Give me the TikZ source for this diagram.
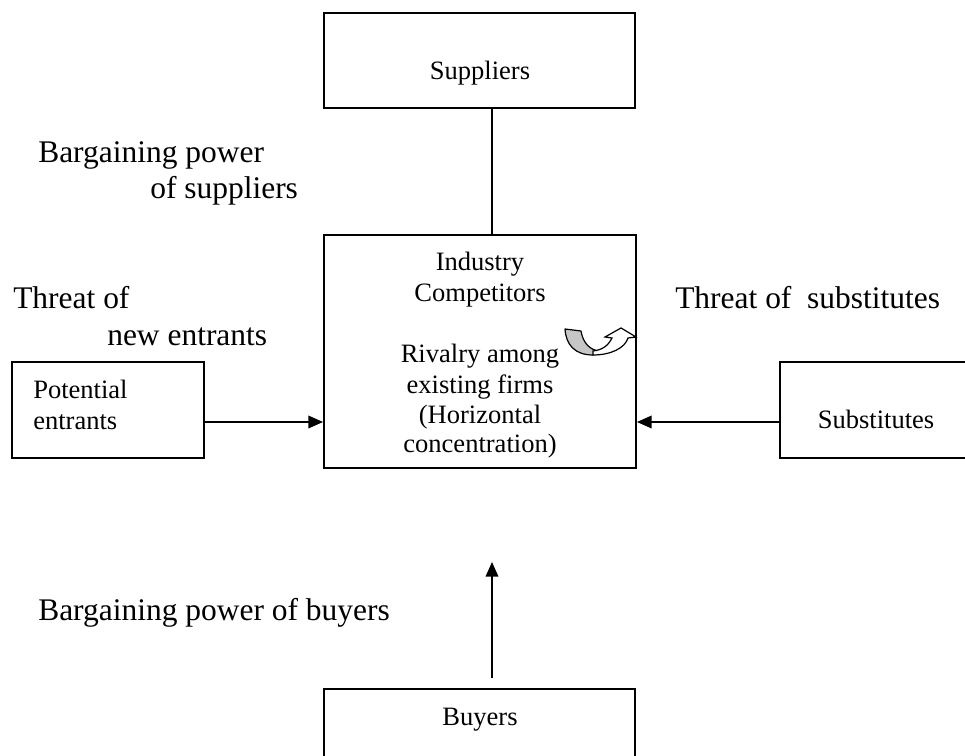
\documentclass[tikz,border=0pt]{standalone}
\usepackage{fontspec}
\setmainfont{Liberation Serif}
\usetikzlibrary{arrows.meta,fit}
\begin{document}
\begin{tikzpicture}[x=0.75pt,y=-0.75pt,
  box/.style={draw,line width=1.5pt,inner sep=0pt},
  lab/.style={inner sep=0pt,font=\fontsize{23.6}{28}\selectfont,anchor=base west},
  txt/.style={inner sep=0pt,font=\fontsize{19.9}{23}\selectfont,anchor=base},
  conn/.style={line width=1.1pt},
  arr/.style={conn,-{Triangle[length=11pt,width=9.5pt]}}]
\useasboundingbox (0,0) rectangle (965,756);
\clip (0,0) rectangle (965,756);
% boxes
\coordinate (s1) at (324,13);  \coordinate (s2) at (635,108);
\coordinate (i1) at (324,235); \coordinate (i2) at (636,468);
\coordinate (e1) at (12,362);  \coordinate (e2) at (204,458);
\coordinate (u1) at (780,362); \coordinate (u2) at (1000,458);
\coordinate (b1) at (324,689); \coordinate (b2) at (635,800);
\node[box,fit=(s1)(s2)] (sup) {};
\node[box,fit=(i1)(i2)] (ind) {};
\node[box,fit=(e1)(e2)] (ent) {};
\node[box,fit=(u1)(u2)] (subs) {};
\node[box,fit=(b1)(b2)] (buy) {};
% box texts
\node[txt] (tsup) at (480,80) {Suppliers};
\node[txt] (tind1) at (480,271) {Industry};
\node[txt] (tind2) at (480,302) {Competitors};
\node[txt] (tind3) at (480,363) {Rivalry among};
\node[txt] (tind4) at (480,393) {existing firms};
\node[txt] (tind5) at (480,423) {(Horizontal};
\node[txt] (tind6) at (480,452) {concentration)};
\node[txt,anchor=base west] (tent1) at (33,398) {Potential};
\node[txt,anchor=base west] (tent2) at (33,429) {entrants};
\node[txt] (tsubs) at (876,428) {Substitutes};
\node[txt] (tbuy) at (480,725) {Buyers};
% outside labels
\node[lab] (l1) at (38,163) {Bargaining power};
\node[lab] (l2) at (150,199) {of suppliers};
\node[lab] (l3) at (13,309) {Threat of};
\node[lab] (l4) at (107,345) {new entrants};
\node[lab] (l5) at (675,309) {Threat of\ \ substitutes};
\node[lab] (l6) at (38,620) {Bargaining power of buyers};
% connectors
\coordinate (xl) at (492,0);
\coordinate (ya) at (0,422);
\coordinate (ba1) at (492,678);
\coordinate (ba2) at (492,562);
\draw[conn] (sup.south -| xl) -- (ind.north -| xl);
\draw[arr] (ent.east |- ya) -- (ind.west |- ya);
\draw[arr] (subs.west |- ya) -- (ind.east |- ya);
\draw[arr] (ba1) -- (ba2);
% curved arrow icon
\filldraw[fill=gray!45,line width=0.9pt,line join=round]
  (565,329) -- (581,331) .. controls (583,343) and (590,350) .. (599,351)
  -- (593,355) .. controls (575,355) and (566,345) .. (565,329) -- cycle;
\filldraw[fill=white,line width=0.9pt,line join=miter]
  (593,355) .. controls (611,355) and (625,348) .. (628,338) -- (636,337)
  -- (621,328) -- (605,337) -- (612,338)
  .. controls (608,346) and (602,350) .. (593,351) -- cycle;
\end{tikzpicture}
\end{document}
